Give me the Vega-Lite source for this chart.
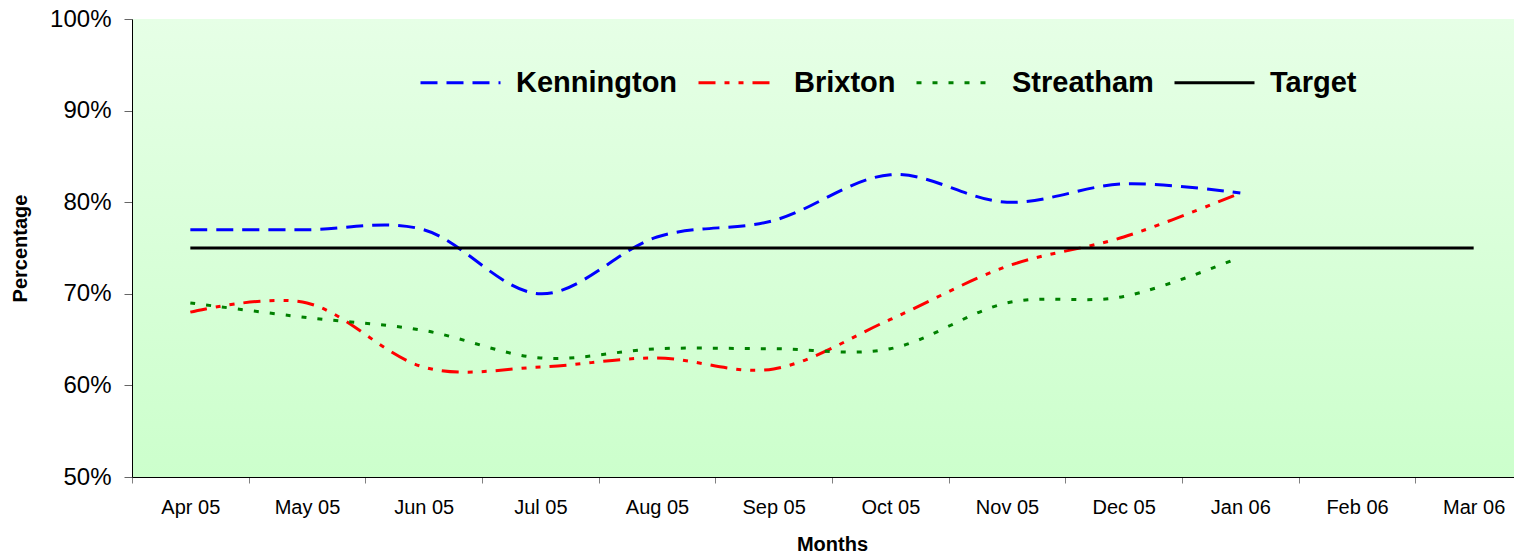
{
  "$schema": "https://vega.github.io/schema/vega-lite/v6.json",
  "width": 1382,
  "height": 458,
  "autosize": {"type": "none"},
  "padding": {"left": 132, "top": 19, "right": 0, "bottom": 78},
  "background": "white",
  "config": {
    "font": "Liberation Sans",
    "view": {
      "stroke": null,
      "fill": {
        "gradient": "linear",
        "x1": 0, "y1": 0, "x2": 0, "y2": 1,
        "stops": [
          {"offset": 0, "color": "#e6ffe6"},
          {"offset": 1, "color": "#ccffcc"}
        ]
      }
    }
  },
  "data": {
    "values": [
      {"month": "Apr 05", "series": "Kennington", "value": 77},
      {"month": "May 05", "series": "Kennington", "value": 77},
      {"month": "Jun 05", "series": "Kennington", "value": 77},
      {"month": "Jul 05", "series": "Kennington", "value": 70},
      {"month": "Aug 05", "series": "Kennington", "value": 76.2},
      {"month": "Sep 05", "series": "Kennington", "value": 78},
      {"month": "Oct 05", "series": "Kennington", "value": 83},
      {"month": "Nov 05", "series": "Kennington", "value": 80},
      {"month": "Dec 05", "series": "Kennington", "value": 82},
      {"month": "Jan 06", "series": "Kennington", "value": 81},
      {"month": "Apr 05", "series": "Brixton", "value": 68},
      {"month": "May 05", "series": "Brixton", "value": 69},
      {"month": "Jun 05", "series": "Brixton", "value": 62},
      {"month": "Jul 05", "series": "Brixton", "value": 62},
      {"month": "Aug 05", "series": "Brixton", "value": 63},
      {"month": "Sep 05", "series": "Brixton", "value": 61.8},
      {"month": "Oct 05", "series": "Brixton", "value": 67.2},
      {"month": "Nov 05", "series": "Brixton", "value": 73},
      {"month": "Dec 05", "series": "Brixton", "value": 76.2},
      {"month": "Jan 06", "series": "Brixton", "value": 81},
      {"month": "Apr 05", "series": "Streatham", "value": 69},
      {"month": "May 05", "series": "Streatham", "value": 67.4},
      {"month": "Jun 05", "series": "Streatham", "value": 66},
      {"month": "Jul 05", "series": "Streatham", "value": 63},
      {"month": "Aug 05", "series": "Streatham", "value": 64},
      {"month": "Sep 05", "series": "Streatham", "value": 64},
      {"month": "Oct 05", "series": "Streatham", "value": 64},
      {"month": "Nov 05", "series": "Streatham", "value": 69},
      {"month": "Dec 05", "series": "Streatham", "value": 69.7},
      {"month": "Jan 06", "series": "Streatham", "value": 74},
      {"month": "Apr 05", "series": "Target", "value": 75},
      {"month": "May 05", "series": "Target", "value": 75},
      {"month": "Jun 05", "series": "Target", "value": 75},
      {"month": "Jul 05", "series": "Target", "value": 75},
      {"month": "Aug 05", "series": "Target", "value": 75},
      {"month": "Sep 05", "series": "Target", "value": 75},
      {"month": "Oct 05", "series": "Target", "value": 75},
      {"month": "Nov 05", "series": "Target", "value": 75},
      {"month": "Dec 05", "series": "Target", "value": 75},
      {"month": "Jan 06", "series": "Target", "value": 75},
      {"month": "Feb 06", "series": "Target", "value": 75},
      {"month": "Mar 06", "series": "Target", "value": 75}
    ]
  },
  "mark": {"type": "line", "interpolate": "cardinal", "strokeCap": "butt", "strokeWidth": 3},
  "encoding": {
    "x": {
      "field": "month",
      "type": "ordinal",
      "sort": ["Apr 05", "May 05", "Jun 05", "Jul 05", "Aug 05", "Sep 05", "Oct 05", "Nov 05", "Dec 05", "Jan 06", "Feb 06", "Mar 06"],
      "scale": {
        "type": "band",
        "domain": ["Apr 05", "May 05", "Jun 05", "Jul 05", "Aug 05", "Sep 05", "Oct 05", "Nov 05", "Dec 05", "Jan 06", "Feb 06", "Mar 06"],
        "range": [0, 1400],
        "paddingInner": 0,
        "paddingOuter": 0
      },
      "bandPosition": 0.5,
      "axis": {
        "title": "Months",
        "titleFontSize": 20,
        "titleFontWeight": "bold",
        "titleColor": "black",
        "titleX": 700,
        "titleY": 73,
        "titleBaseline": "alphabetic",
        "titleAlign": "center",
        "labelFontSize": 20,
        "labelColor": "black",
        "labelAngle": 0,
        "labelPadding": 14,
        "tickSize": 6,
        "tickColor": "#808080",
        "tickBand": "extent",
        "domainColor": "black",
        "grid": false
      }
    },
    "y": {
      "field": "value",
      "type": "quantitative",
      "scale": {"domain": [50, 100], "nice": false, "zero": false},
      "axis": {
        "title": "Percentage",
        "titleFontSize": 20,
        "titleFontWeight": "bold",
        "titleColor": "black",
        "titleX": -112,
        "titleY": 229,
        "titleAngle": -90,
        "titleBaseline": "middle",
        "titleAlign": "center",
        "values": [50, 60, 70, 80, 90, 100],
        "labelExpr": "datum.value + '%'",
        "labelFontSize": 24,
        "labelColor": "black",
        "labelPadding": 13,
        "tickSize": 8,
        "tickColor": "#666666",
        "domainColor": "black",
        "grid": false
      }
    },
    "color": {
      "field": "series",
      "type": "nominal",
      "scale": {
        "domain": ["Kennington", "Brixton", "Streatham", "Target"],
        "range": ["#0000ff", "#ff0000", "#008000", "#000000"]
      },
      "legend": {
        "title": null,
        "orient": "none",
        "legendX": 287,
        "legendY": 22,
        "direction": "horizontal",
        "columns": 4,
        "padding": 0,
        "labelFontSize": 29,
        "labelFontWeight": "bold",
        "labelColor": "black",
        "labelLimit": 400,
        "labelOffset": 14,
        "columnPadding": 14,
        "symbolType": "stroke",
        "symbolSize": 6400,
        "symbolStrokeWidth": 3
      }
    },
    "strokeDash": {
      "field": "series",
      "type": "nominal",
      "scale": {
        "domain": ["Kennington", "Brixton", "Streatham", "Target"],
        "range": [[17, 9], [17, 9, 5, 9, 5, 9], [5, 11], [1, 0]]
      },
      "legend": {
        "title": null,
        "orient": "none",
        "legendX": 287,
        "legendY": 22,
        "direction": "horizontal",
        "columns": 4,
        "padding": 0,
        "labelFontSize": 29,
        "labelFontWeight": "bold",
        "labelColor": "black",
        "labelLimit": 400,
        "labelOffset": 14,
        "columnPadding": 14,
        "symbolType": "stroke",
        "symbolSize": 6400,
        "symbolStrokeWidth": 3
      }
    }
  }
}
